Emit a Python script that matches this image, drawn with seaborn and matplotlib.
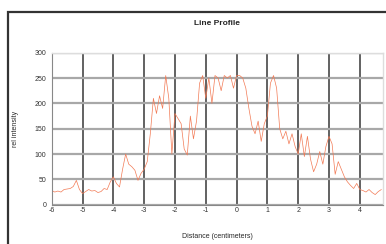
import numpy as np
import pandas as pd
import matplotlib
matplotlib.use('Agg')
import matplotlib.pyplot as plt
from matplotlib.patches import Rectangle
import seaborn as sns

# ── Data ─────────────────────────────────────────────────────────────────────
distance = [-6.0, -5.9, -5.8, -5.7, -5.6, -5.5, -5.4, -5.3, -5.2, -5.1,
            -5.0, -4.9, -4.8, -4.7, -4.6, -4.5, -4.4, -4.3, -4.2, -4.1,
            -4.0, -3.9, -3.8, -3.7, -3.6, -3.5, -3.4, -3.3, -3.2, -3.1,
            -3.0, -2.9, -2.8, -2.7, -2.6, -2.5, -2.4, -2.3, -2.2, -2.1,
            -2.0, -1.9, -1.8, -1.7, -1.6, -1.5, -1.4, -1.3, -1.2, -1.1,
            -1.0, -0.9, -0.8, -0.7, -0.6, -0.5, -0.4, -0.3, -0.2, -0.1,
            0.0, 0.1, 0.2, 0.3, 0.4, 0.5, 0.6, 0.7, 0.8, 0.9,
            1.0, 1.1, 1.2, 1.3, 1.4, 1.5, 1.6, 1.7, 1.8, 1.9,
            2.0, 2.1, 2.2, 2.3, 2.4, 2.5, 2.6, 2.7, 2.8, 2.9,
            3.0, 3.1, 3.2, 3.3, 3.4, 3.5, 3.6, 3.7, 3.8, 3.9,
            4.0, 4.1, 4.2, 4.3, 4.4, 4.5, 4.6, 4.7]
intensity = [28, 25, 27, 25, 30, 31, 32, 36, 48, 30,
             22, 26, 30, 27, 28, 24, 26, 32, 30, 45,
             55, 42, 35, 70, 100, 80, 75, 68, 48, 62,
             70, 85, 140, 210, 180, 215, 190, 255, 210, 100,
             180, 170, 160, 110, 98, 175, 130, 165, 240, 255,
             210, 250, 200, 255, 250, 225, 255, 250, 255, 230,
             255, 255, 250, 230, 190, 155, 140, 165, 125, 160,
             175, 240, 255, 230, 150, 130, 145, 120, 140, 115,
             100, 140, 95, 135, 90, 65, 80, 105, 80, 115,
             135, 120, 60, 85, 70, 55, 45, 38, 32, 42,
             30, 28, 25, 30, 24, 20, 26, 30]
x_ticks = [-6, -5, -4, -3, -2, -1, 0, 1, 2, 3, 4]
y_ticks = [0, 50, 100, 150, 200, 250, 300]

df = pd.DataFrame({'Distance': distance, 'Intensity': intensity})

# ── Plot ─────────────────────────────────────────────────────────────────────
sns.set_style('white')
plt.rcParams['font.family'] = ['Liberation Sans', 'DejaVu Sans']

fig = plt.figure(figsize=(3.86, 2.44), dpi=100)
ax = fig.add_axes([0.134, 0.161, 0.858, 0.623])

# chart frame
fig.patches.append(Rectangle((0.02, -0.05), 1.05, 1.0, transform=fig.transFigure,
                             fill=False, edgecolor='#333333', linewidth=1.6))

sns.lineplot(data=df, x='Distance', y='Intensity', ax=ax,
             color='#f27a55', linewidth=0.5)

ax.set_xlim(-6, 4.75)
ax.set_ylim(0, 300)
ax.set_xticks(x_ticks)
ax.set_yticks(y_ticks)
ax.set_xticklabels([str(t) for t in x_ticks])
ax.tick_params(axis='both', labelsize=5, length=2, width=0.6, pad=2, colors='#333333')
ax.tick_params(axis='x', length=0)

for t in x_ticks:
    ax.axvline(t, color='#555555', linewidth=1.3, zorder=0)
for t in y_ticks:
    ax.axhline(t, color='#a8a8a8', linewidth=1.6, zorder=0)

for s in ['top', 'right']:
    ax.spines[s].set_color('#dddddd')
    ax.spines[s].set_linewidth(1.0)
for s in ['left', 'bottom']:
    ax.spines[s].set_color('#888888')
    ax.spines[s].set_linewidth(0.8)

ax.set_title('Line Profile', fontsize=6, fontweight='bold', pad=20)
ax.set_xlabel('Distance (centimeters)', fontsize=5, labelpad=13)
ax.set_ylabel('rel intensity', fontsize=5, labelpad=11)

fig.savefig('out.png', dpi=100)
